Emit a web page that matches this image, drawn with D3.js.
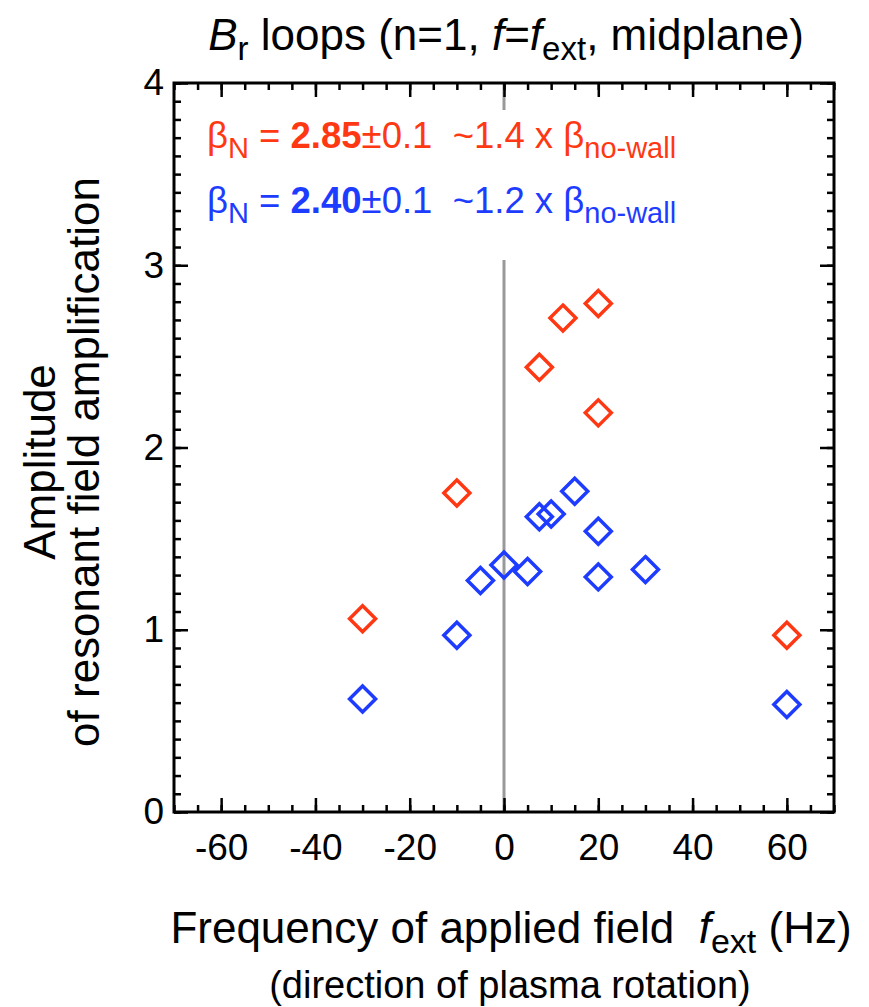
<!DOCTYPE html>
<html>
<head>
<meta charset="utf-8">
<script src="https://cdn.jsdelivr.net/npm/d3@7"></script>
<style>
  body { margin: 0; background: #fff; }
  text { font-family: "Liberation Sans", Arial, sans-serif; white-space: pre; }
</style>
</head>
<body>
<div id="chart"></div>
<script>
// Dữ liệu
const redFreq = [-30, -10, 7.5, 12.5, 20, 20, 60];
const redAmp = [1.06, 1.75, 2.44, 2.71, 2.79, 2.19, 0.97];

const blueFreq = [-30, -10, -5, 0, 5, 7.5, 10, 15, 20, 20, 30, 60];
const blueAmp = [0.62, 0.97, 1.27, 1.355, 1.32, 1.62, 1.635, 1.76, 1.54, 1.29, 1.33, 0.59];

const xTickLabels = [-60, -40, -20, 0, 20, 40, 60];
const yTickLabels = [0, 1, 2, 3, 4];

const redColor = "#ff3814", blueColor = "#1e3cff";

const width = 869, height = 1007;
const plot = { left: 174, right: 834, top: 83, bottom: 812 };

const svg = d3.select("#chart").append("svg")
    .attr("width", width)
    .attr("height", height);

const x = d3.scaleLinear().domain([-70, 70]).range([plot.left, plot.right]);
const y = d3.scaleLinear().domain([0, 4]).range([plot.bottom, plot.top]);

// đường thẳng đứng tại f = 0
svg.append("line")
    .attr("x1", x(0)).attr("x2", x(0))
    .attr("y1", y(4)).attr("y2", y(0))
    .attr("stroke", "#999")
    .attr("stroke-width", 3);

// nền trắng cho chú thích (che đường xám)
svg.append("rect")
    .attr("x", 196).attr("y", 110)
    .attr("width", 540).attr("height", 150)
    .attr("fill", "#fff");

// Trục: vạch hướng vào trong ở cả 4 cạnh
const xMinor = d3.range(-70, 70.1, 5);
const yMinor = d3.range(0, 4.001, 0.1);

function drawAxis(axis, tx, ty) {
    const g = svg.append("g")
        .attr("transform", `translate(${tx},${ty})`)
        .call(axis);
    g.select(".domain").remove();
    g.selectAll("line").attr("stroke", "#000").attr("stroke-width", 2.5);
    return g;
}

// minor ticks
drawAxis(d3.axisBottom(x).tickValues(xMinor).tickSize(-7).tickFormat(""), 0, plot.bottom);
drawAxis(d3.axisTop(x).tickValues(xMinor).tickSize(-7).tickFormat(""), 0, plot.top);
drawAxis(d3.axisLeft(y).tickValues(yMinor).tickSize(-7).tickFormat(""), plot.left, 0);
drawAxis(d3.axisRight(y).tickValues(yMinor).tickSize(-7).tickFormat(""), plot.right, 0);

// major ticks
const xb = drawAxis(d3.axisBottom(x).tickValues(xTickLabels).tickSize(-14).tickPadding(22)
    .tickFormat(d => String(d)), 0, plot.bottom);
drawAxis(d3.axisTop(x).tickValues(xTickLabels).tickSize(-14).tickFormat(""), 0, plot.top);
const yl = drawAxis(d3.axisLeft(y).tickValues(yTickLabels).tickSize(-14).tickPadding(10)
    .tickFormat(d => String(d)), plot.left, 0);
drawAxis(d3.axisRight(y).tickValues(yTickLabels).tickSize(-14).tickFormat(""), plot.right, 0);

xb.selectAll("text").attr("font-size", 37).attr("fill", "#000")
    .attr("font-family", "Liberation Sans, Arial, sans-serif");
yl.selectAll("text").attr("font-size", 37).attr("fill", "#000")
    .attr("font-family", "Liberation Sans, Arial, sans-serif");

// khung
svg.append("rect")
    .attr("x", plot.left).attr("y", plot.top)
    .attr("width", plot.right - plot.left)
    .attr("height", plot.bottom - plot.top)
    .attr("fill", "none")
    .attr("stroke", "#000")
    .attr("stroke-width", 3);

// Điểm hình thoi
function diamond(cx, cy, r) {
    return `M${cx},${cy - r}L${cx + r},${cy}L${cx},${cy + r}L${cx - r},${cy}Z`;
}

function drawSeries(fx, amp, color) {
    svg.append("g").selectAll("path")
        .data(fx.map((f, i) => ({ f: f, a: amp[i] })))
        .enter()
        .append("path")
        .attr("d", d => diamond(x(d.f), y(d.a), 13))
        .attr("fill", "none")
        .attr("stroke", color)
        .attr("stroke-width", 3.5);
}
drawSeries(blueFreq, blueAmp, blueColor);
drawSeries(redFreq, redAmp, redColor);

// Chú thích
function legendLine(yPos, val, ratio, color) {
    const t = svg.append("text")
        .attr("x", 207).attr("y", yPos)
        .attr("fill", color)
        .attr("font-size", 36.5);
    t.append("tspan").text("β");
    t.append("tspan").attr("font-size", 29).attr("dy", 10).text("N");
    t.append("tspan").attr("dy", -10).text(" = ");
    t.append("tspan").attr("font-weight", "bold").text(val);
    t.append("tspan").text("±0.1  ~" + ratio + " x β");
    t.append("tspan").attr("font-size", 29).attr("dy", 10).text("no-wall");
}
legendLine(148, "2.85", "1.4", redColor);
legendLine(213, "2.40", "1.2", blueColor);

// Tiêu đề
const title = svg.append("text")
    .attr("x", 506).attr("y", 50)
    .attr("text-anchor", "middle")
    .attr("font-size", 44);
title.append("tspan").attr("font-style", "italic").text("B");
title.append("tspan").attr("font-size", 33).attr("dy", 10).text("r");
title.append("tspan").attr("dy", -10).text(" loops (n=1, ");
title.append("tspan").attr("font-style", "italic").text("f");
title.append("tspan").text("=");
title.append("tspan").attr("font-style", "italic").text("f");
title.append("tspan").attr("font-size", 33).attr("dy", 10).text("ext");
title.append("tspan").attr("dy", -10).text(", midplane)");

// Nhãn trục X
const xl = svg.append("text")
    .attr("x", 511).attr("y", 943)
    .attr("text-anchor", "middle")
    .attr("font-size", 44);
xl.append("tspan").text("Frequency of applied field  ");
xl.append("tspan").attr("font-style", "italic").text("f");
xl.append("tspan").attr("font-size", 34).attr("dy", 10).text("ext");
xl.append("tspan").attr("dy", -10).text(" (Hz)");

svg.append("text")
    .attr("x", 510).attr("y", 998)
    .attr("text-anchor", "middle")
    .attr("font-size", 38)
    .text("(direction of plasma rotation)");

// Nhãn trục Y
svg.append("text")
    .attr("transform", "translate(55,462) rotate(-90)")
    .attr("text-anchor", "middle")
    .attr("font-size", 44)
    .text("Amplitude");
svg.append("text")
    .attr("transform", "translate(99,462) rotate(-90)")
    .attr("text-anchor", "middle")
    .attr("font-size", 44)
    .text("of resonant field amplification");
</script>
</body>
</html>
